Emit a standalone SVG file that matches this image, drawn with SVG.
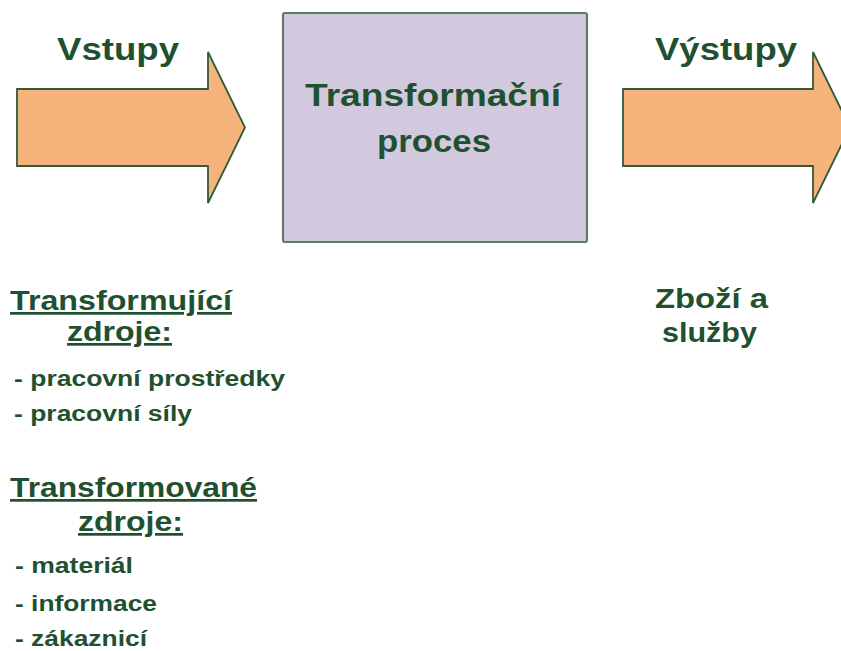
<svg xmlns="http://www.w3.org/2000/svg" width="841" height="651" viewBox="0 0 841 651">
  <style>
    .t { font-family: "Liberation Sans", Arial, sans-serif; font-weight: bold; fill: #1f5130; }
    .h1 { font-size: 32px; }
    .h2 { font-size: 27px; }
    .li { font-size: 22px; }
    .u { text-decoration: underline; }
    .arrow { fill: #f6b37b; stroke: #2f5c3a; stroke-width: 1.8; stroke-linejoin: miter; }
    .box { fill: #d3c9df; stroke: #5e7d66; stroke-width: 2.2; }
  </style>
  <rect width="841" height="651" fill="#ffffff"/>

  <g id="connectors">
    <!-- input arrow -->
    <polygon class="arrow" points="17,89 208,89 208,52 245,127.5 208,203 208,166 17,166"/>
    <!-- output arrow, tip runs past the right edge -->
    <polygon class="arrow" points="623,89 813,89 813,52 850,127.5 813,203 813,166 623,166"/>
  </g>

  <g id="vstupy">
    <text class="t h1" x="57" y="60" textLength="122" lengthAdjust="spacingAndGlyphs">Vstupy</text>
  </g>

  <g id="vystupy">
    <text class="t h1" x="655" y="60" textLength="142" lengthAdjust="spacingAndGlyphs">Výstupy</text>
  </g>

  <g id="proces">
    <rect class="box" x="283" y="13" width="304" height="229" rx="2"/>
    <text class="t h1" x="305" y="106" textLength="256" lengthAdjust="spacingAndGlyphs">Transformační</text>
    <text class="t h1" x="377" y="152" textLength="114" lengthAdjust="spacingAndGlyphs">proces</text>
  </g>

  <g id="transformujici">
    <text class="t h2 u" x="10" y="310" textLength="222" lengthAdjust="spacingAndGlyphs">Transformující</text>
    <text class="t h2 u" x="67" y="341" textLength="105" lengthAdjust="spacingAndGlyphs">zdroje:</text>
    <text class="t li" x="14" y="386" textLength="271" lengthAdjust="spacingAndGlyphs">- pracovní prostředky</text>
    <text class="t li" x="14" y="421" textLength="178" lengthAdjust="spacingAndGlyphs">- pracovní síly</text>
  </g>

  <g id="transformovane">
    <text class="t h2 u" x="10" y="497" textLength="247" lengthAdjust="spacingAndGlyphs">Transformované</text>
    <text class="t h2 u" x="78" y="531" textLength="105" lengthAdjust="spacingAndGlyphs">zdroje:</text>
    <text class="t li" x="15" y="573" textLength="118" lengthAdjust="spacingAndGlyphs">- materiál</text>
    <text class="t li" x="15" y="611" textLength="142" lengthAdjust="spacingAndGlyphs">- informace</text>
    <text class="t li" x="15" y="646" textLength="132" lengthAdjust="spacingAndGlyphs">- zákaznicí</text>
  </g>

  <g id="zbozi">
    <text class="t h2" x="655" y="308" textLength="113" lengthAdjust="spacingAndGlyphs">Zboží a</text>
    <text class="t h2" x="662" y="342" textLength="95" lengthAdjust="spacingAndGlyphs">služby</text>
  </g>
</svg>
